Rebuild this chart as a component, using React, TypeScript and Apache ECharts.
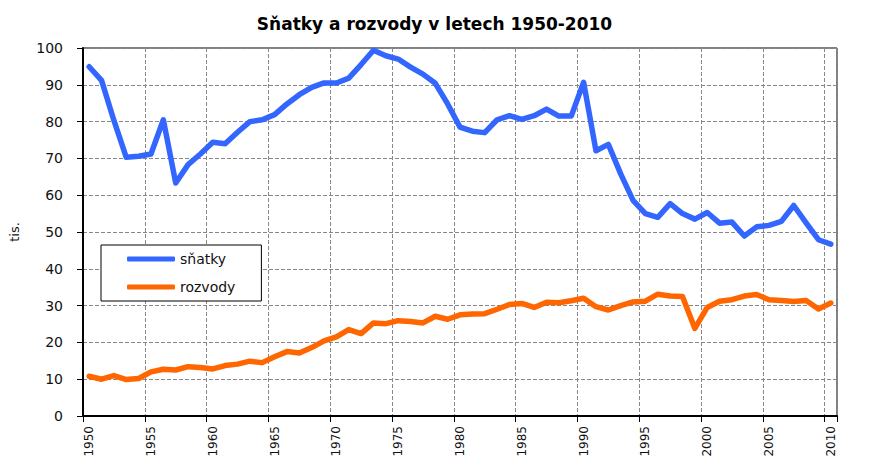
import React, { useEffect, useRef } from "react";
import * as echarts from "echarts";

const years: string[] = [
  "1950", "1951", "1952", "1953", "1954", "1955", "1956", "1957", "1958", "1959",
  "1960", "1961", "1962", "1963", "1964", "1965", "1966", "1967", "1968", "1969",
  "1970", "1971", "1972", "1973", "1974", "1975", "1976", "1977", "1978", "1979",
  "1980", "1981", "1982", "1983", "1984", "1985", "1986", "1987", "1988", "1989",
  "1990", "1991", "1992", "1993", "1994", "1995", "1996", "1997", "1998", "1999",
  "2000", "2001", "2002", "2003", "2004", "2005", "2006", "2007", "2008", "2009",
  "2010",
];

// thousands
const marriages: number[] = [
  94.9, 91.2, 80.3, 70.3, 70.6, 71.2, 80.5, 63.3, 68.3, 71.2,
  74.4, 74.0, 77.1, 80.0, 80.5, 81.9, 84.8, 87.3, 89.3, 90.5,
  90.5, 91.8, 95.5, 99.4, 97.9, 97.0, 94.8, 92.9, 90.4, 84.8,
  78.5, 77.4, 77.0, 80.5, 81.6, 80.6, 81.6, 83.4, 81.5, 81.5,
  90.7, 72.1, 73.8, 65.8, 58.6, 55.0, 54.0, 57.7, 55.0, 53.5,
  55.3, 52.4, 52.7, 48.9, 51.4, 51.8, 52.9, 57.2, 52.5, 47.9,
  46.7,
];

const divorces: number[] = [
  10.8, 10.0, 11.0, 9.9, 10.2, 12.0, 12.7, 12.5, 13.4, 13.2,
  12.8, 13.7, 14.1, 14.9, 14.5, 16.1, 17.5, 17.1, 18.6, 20.4,
  21.5, 23.5, 22.4, 25.3, 25.1, 25.9, 25.7, 25.3, 27.1, 26.3,
  27.5, 27.7, 27.8, 29.0, 30.3, 30.6, 29.5, 30.9, 30.8, 31.3,
  32.0, 29.7, 28.8, 30.0, 31.0, 31.2, 33.1, 32.6, 32.5, 23.8,
  29.5, 31.2, 31.6, 32.6, 33.0, 31.6, 31.4, 31.1, 31.4, 29.1,
  30.7,
];

const seriesNames = ["sňatky", "rozvody"];
const titleText = "Sňatky a rozvody v letech 1950-2010";
const yAxisName = "tis.";

const FONT = "DejaVu Sans";

export default function App() {
  const ref = useRef<HTMLDivElement>(null);

  useEffect(() => {
    if (!ref.current) return;
    const chart = echarts.init(ref.current, null, { renderer: "svg" });
    chart.setOption({
      animation: false,
      backgroundColor: "#fff",
      title: {
        text: titleText,
        left: "center",
        top: 10,
        textStyle: { fontFamily: FONT, fontSize: 17, fontWeight: "bold", color: "#000" },
      },
      legend: {
        orient: "vertical",
        left: 101,
        top: 245,
        padding: [6, 26, 6, 26],
        itemGap: 12,
        itemWidth: 48,
        itemHeight: 5,
        backgroundColor: "#fff",
        borderColor: "#000",
        borderWidth: 1,
        borderRadius: 0,
        textStyle: { fontFamily: FONT, fontSize: 14, color: "#111", lineHeight: 16 },
        data: [
          { name: seriesNames[0], icon: "roundRect" },
          { name: seriesNames[1], icon: "roundRect" },
        ],
      },
      grid: {
        left: 83,
        right: 32,
        top: 48,
        bottom: 42,
        show: true,
        borderColor: "#000",
        borderWidth: 1,
        containLabel: false,
        outerBoundsMode: "none",
      },
      xAxis: {
        type: "category",
        data: years,
        boundaryGap: true,
        axisLine: { show: true, lineStyle: { color: "#000", width: 2 } },
        axisTick: { show: true, interval: 4, length: 6, lineStyle: { color: "#000" } },
        axisLabel: {
          interval: 4,
          rotate: 90,
          margin: 10,
          fontFamily: FONT,
          fontSize: 12,
          color: "#111",
        },
        splitLine: {
          show: true,
          interval: 4,
          lineStyle: { color: "#888", type: "dashed", width: 1 },
        },
      },
      yAxis: {
        type: "value",
        min: 0,
        max: 100,
        interval: 10,
        name: yAxisName,
        nameLocation: "middle",
        nameGap: 62,
        nameRotate: 90,
        nameTextStyle: { fontFamily: FONT, fontSize: 13, color: "#111" },
        axisLine: { show: true, lineStyle: { color: "#000", width: 2 } },
        axisTick: { show: true, length: 6, lineStyle: { color: "#000" } },
        axisLabel: { margin: 20, fontFamily: FONT, fontSize: 14, color: "#111" },
        splitLine: { show: true, lineStyle: { color: "#888", type: "dashed", width: 1 } },
      },
      series: [
        {
          name: seriesNames[0],
          type: "line",
          data: marriages,
          symbol: "none",
          color: "#3366ff",
          lineStyle: { width: 5.5, color: "#3366ff", cap: "round", join: "round" },
        },
        {
          name: seriesNames[1],
          type: "line",
          data: divorces,
          symbol: "none",
          color: "#ff6600",
          lineStyle: { width: 5.5, color: "#ff6600", cap: "round", join: "round" },
        },
      ],
    });
    return () => chart.dispose();
  }, []);

  return (
    <div
      ref={ref}
      style={{ position: "fixed", left: 0, top: 0, width: 869, height: 458 }}
    />
  );
}
